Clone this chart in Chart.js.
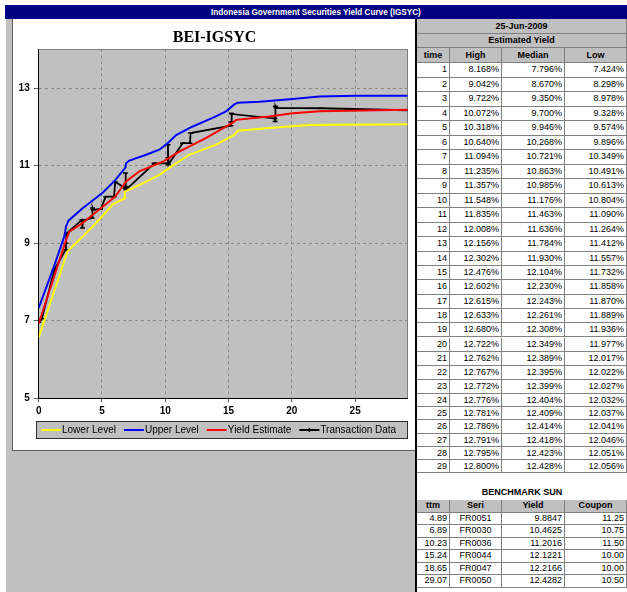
<!DOCTYPE html>
<html>
<head>
<meta charset="utf-8">
<script src="https://cdn.jsdelivr.net/npm/chart.js@4/dist/chart.umd.min.js"></script>
<style>
  html,body{margin:0;padding:0;background:#fff;}
  body{width:627px;height:592px;overflow:hidden;position:relative;font-family:"Liberation Sans",Arial,sans-serif;}
  #bar{position:absolute;left:5px;top:5px;width:622px;height:14px;background:#000080;color:#fff;font-weight:bold;font-size:9.5px;line-height:14px;text-align:center;overflow:hidden;}
  #bar span{display:inline-block;transform:scaleX(0.86);white-space:nowrap;}
  #gray{position:absolute;left:6px;top:19px;width:409px;height:573px;background:#c0c0c0;}
  #box{position:absolute;left:12px;top:19px;width:403px;height:432px;background:#fff;box-sizing:border-box;border-left:1px solid #606060;border-bottom:1px solid #606060;}
  #c{position:absolute;left:0;top:0;}
  #tbl{position:absolute;left:415px;top:19px;width:212px;height:573px;background:#fff;border-left:2px solid #000;box-sizing:border-box;}
  .cell{position:absolute;box-sizing:border-box;border-right:1px solid #808080;border-bottom:1px solid #808080;font-size:9px;white-space:nowrap;overflow:hidden;padding:0 2px;color:#000;}
  .hd{background:#c0c0c0;font-weight:bold;text-align:center;}
  .num{background:#fff;text-align:right;}
  .ctr{background:#fff;text-align:center;}
</style>
</head>
<body>
<div id="bar"><span>Indonesia Government Securities Yield Curve (IGSYC)</span></div>
<div id="gray"></div>
<div id="box"><canvas id="c" width="403" height="432"></canvas></div>
<div id="tbl"></div>
<script>
// ---------- Chart data ----------
const lowerX = [0, 2.29, 3.2, 4.27, 5.32, 5.84, 6.76, 6.8, 7.95, 9.53, 10.58, 11.9, 14.0, 15.45, 15.72, 18.2, 21.4, 29.15];
const lowerY = [6.57, 8.8, 9.08, 9.43, 9.8, 10.0, 10.15, 10.33, 10.5, 10.76, 11.0, 11.28, 11.54, 11.79, 11.9, 11.97, 12.05, 12.07];

const upperX = [0, 1.23, 2.05, 2.15, 2.35, 3.47, 5.05, 6.03, 6.85, 6.9, 7.16, 8.48, 9.53, 10.19, 10.85, 12.17, 13.74, 14.8, 15.45, 15.72, 17.43, 20.06, 22.17, 25.06, 29.15];
const upperY = [7.33, 8.42, 9.2, 9.42, 9.58, 9.9, 10.3, 10.62, 10.95, 11.06, 11.13, 11.28, 11.41, 11.58, 11.79, 12.01, 12.23, 12.4, 12.58, 12.62, 12.65, 12.72, 12.78, 12.8, 12.8];

const estX = [0, 1.23, 2.16, 2.42, 3.47, 5.05, 6.05, 6.9, 7.95, 9.8, 11.1, 13.2, 15.3, 15.6, 18.2, 20.06, 22.2, 29.15];
const estY = [6.93, 8.15, 9.08, 9.3, 9.52, 9.94, 10.2, 10.59, 10.85, 11.1, 11.36, 11.71, 12.1, 12.18, 12.27, 12.35, 12.4, 12.44];

const trxX = [0.0, 0.25, 1.23, 2.12, 2.15, 2.18, 2.22, 3.42, 3.45, 3.5, 4.22, 4.25, 4.3, 4.89, 5.3, 5.95, 6.05, 6.82, 6.85, 6.89, 6.9, 9.13, 10.19, 10.21, 10.23, 10.25, 11.37, 11.95, 12.0, 15.18, 15.2, 15.22, 15.27, 18.65, 18.68, 18.7, 18.75, 22.3, 29.07];
const trxY = [6.96, 7.05, 8.31, 8.83, 9.0, 9.21, 9.26, 9.6, 9.39, 9.58, 9.65, 9.91, 9.86, 9.8847, 10.2, 10.2, 10.58, 10.42, 10.81, 10.4625, 10.38, 11.06, 11.06, 11.54, 11.2016, 11.03, 11.58, 11.58, 11.84, 12.03, 12.1221, 12.35, 12.33, 12.2166, 12.14, 12.53, 12.49, 12.48, 12.4282];

const xTicks = [0, 5, 10, 15, 20, 25];
const yTicks = [5, 7, 9, 11, 13];

// ---------- Table data ----------
const tableDate = "25-Jun-2009";
const tableTime = [1,2,3,4,5,6,7,8,9,10,11,12,13,14,15,16,17,18,19,20,21,22,23,24,25,26,27,28,29];
const tableHigh = [8.168, 9.042, 9.722, 10.072, 10.318, 10.640, 11.094, 11.235, 11.357, 11.548, 11.835, 12.008, 12.156, 12.302, 12.476, 12.602, 12.615, 12.633, 12.680, 12.722, 12.762, 12.767, 12.772, 12.776, 12.781, 12.786, 12.791, 12.795, 12.800];
const tableMedian = [7.796, 8.670, 9.350, 9.700, 9.946, 10.268, 10.721, 10.863, 10.985, 11.176, 11.463, 11.636, 11.784, 11.930, 12.104, 12.230, 12.243, 12.261, 12.308, 12.349, 12.389, 12.395, 12.399, 12.404, 12.409, 12.414, 12.418, 12.423, 12.428];
const tableLow = [7.424, 8.298, 8.978, 9.328, 9.574, 9.896, 10.349, 10.491, 10.613, 10.804, 11.090, 11.264, 11.412, 11.557, 11.732, 11.858, 11.870, 11.889, 11.936, 11.977, 12.017, 12.022, 12.027, 12.032, 12.037, 12.041, 12.046, 12.051, 12.056];

const benchTtm = [4.89, 6.89, 10.23, 15.24, 18.65, 29.07];
const benchSeri = ["FR0051", "FR0030", "FR0036", "FR0044", "FR0047", "FR0050"];
const benchYield = [9.8847, 10.4625, 11.2016, 12.1221, 12.2166, 12.4282];
const benchCoupon = [11.25, 10.75, 11.50, 10.00, 10.00, 10.50];

// ---------- Build table ----------
const tbl = document.getElementById('tbl');
const colX = [0, 33, 85, 148, 210];   // relative to table inner left (417)
function cell(x, y, w, h, text, cls, extraStyle){
  const d = document.createElement('div');
  d.className = 'cell ' + cls;
  d.style.left = x + 'px'; d.style.top = y + 'px';
  d.style.width = w + 'px'; d.style.height = h + 'px';
  d.style.lineHeight = (h - 1) + 'px';
  if (extraStyle) Object.assign(d.style, extraStyle);
  d.textContent = text;
  tbl.appendChild(d);
}
function row(y, h, texts, cls){
  for (let i = 0; i < 4; i++) cell(colX[i], y, colX[i+1] - colX[i], h, texts[i], Array.isArray(cls) ? cls[i] : cls);
}
cell(0, 0, 210, 15, tableDate, 'hd');
cell(0, 15, 210, 14, 'Estimated Yield', 'hd');
row(29, 15, ['time', 'High', 'Median', 'Low'], 'hd');
let y = 44;
tableTime.forEach((t, i) => {
  const h = i < 14 ? 14.5 : (i < 22 ? 14.3 : 13.3);
  row(y, h, [String(t), tableHigh[i].toFixed(3) + '%', tableMedian[i].toFixed(3) + '%', tableLow[i].toFixed(3) + '%'], 'num');
  y += h;
});
cell(0, 467, 210, 13, 'BENCHMARK SUN', 'ctr', {border: 'none', fontWeight: 'bold'});
row(481, 12.5, ['ttm', 'Seri', 'Yield', 'Coupon'], 'hd');
y = 493.5;
benchTtm.forEach((t, i) => {
  row(y, 12.5, [t.toFixed(2), benchSeri[i], benchYield[i].toFixed(4), benchCoupon[i].toFixed(2)], ['num', 'ctr', 'num', 'num']);
  y += 12.5;
});

// ---------- Chart ----------
const FONT = '"Liberation Sans", Arial, sans-serif';
const zip = (xs, ys) => xs.map((x, i) => ({x: x, y: ys[i]}));

const plotFrame = {
  id: 'plotFrame',
  beforeDraw(chart){
    const a = chart.chartArea, c = chart.ctx;
    c.save();
    c.fillStyle = '#c0c0c0';
    c.fillRect(a.left, a.top, a.right - a.left, a.bottom - a.top);
    c.restore();
  },
  beforeDatasetsDraw(chart){
    const a = chart.chartArea, c = chart.ctx;
    c.save();
    c.strokeStyle = '#808080'; c.lineWidth = 1;
    c.beginPath();
    c.moveTo(a.left, Math.round(a.top) + 0.5); c.lineTo(a.right, Math.round(a.top) + 0.5);
    c.moveTo(Math.round(a.right) - 0.5, a.top); c.lineTo(Math.round(a.right) - 0.5, a.bottom);
    c.stroke();
    c.restore();
  }
};

const boxLegend = {
  id: 'boxLegend',
  afterDraw(chart){
    const c = chart.ctx;
    const L = 23, T = 402, R = 395, B = 420;
    c.save();
    c.fillStyle = '#c0c0c0'; c.fillRect(L, T, R - L, B - T);
    c.strokeStyle = '#303030'; c.lineWidth = 1; c.strokeRect(L + 0.5, T + 0.5, R - L - 1, B - T - 1);
    c.font = '10px ' + FONT; c.textBaseline = 'middle'; c.textAlign = 'left';
    const cy = (T + B) / 2;
    let x = L + 5;
    chart.data.datasets.forEach(ds => {
      c.strokeStyle = ds.borderColor; c.lineWidth = 2;
      c.beginPath(); c.moveTo(x, cy); c.lineTo(x + 20, cy); c.stroke();
      if (ds.pointRadius > 0) {
        c.lineWidth = 1.5;
        c.beginPath(); c.moveTo(x + 10, cy - 2); c.lineTo(x + 10, cy + 2); c.stroke();
      }
      x += 21;
      c.fillStyle = '#000';
      c.fillText(ds.label, x, cy + 0.5);
      x += c.measureText(ds.label).width + 8;
    });
    c.restore();
  }
};

new Chart(document.getElementById('c'), {
  type: 'line',
  data: {
    datasets: [
      {label: 'Lower Level', data: zip(lowerX, lowerY), borderColor: '#ffff00', backgroundColor: '#ffff00', borderWidth: 2, pointRadius: 0, tension: 0},
      {label: 'Upper Level', data: zip(upperX, upperY), borderColor: '#0000ff', backgroundColor: '#0000ff', borderWidth: 2, pointRadius: 0, tension: 0},
      {label: 'Yield Estimate', data: zip(estX, estY), borderColor: '#ff0000', backgroundColor: '#ff0000', borderWidth: 2, pointRadius: 0, tension: 0},
      {label: 'Transaction Data', data: zip(trxX, trxY), borderColor: '#000000', backgroundColor: '#000000', borderWidth: 1.8, pointRadius: 2.5, pointStyle: 'line', pointBorderWidth: 1.5, pointBorderColor: '#000', tension: 0}
    ]
  },
  options: {
    responsive: false,
    animation: false,
    events: [],
    layout: {padding: {left: 0, right: 0, top: 0, bottom: 30.7}},
    plugins: {
      legend: {display: false},
      tooltip: {enabled: false},
      title: {display: true, text: 'BEI-IGSYC', color: '#000', font: {family: '"Liberation Serif", "Times New Roman", serif', size: 16, weight: 'bold'}, padding: {top: 9, bottom: 2.1}}
    },
    scales: {
      x: {
        type: 'linear', min: 0, max: 29.15,
        afterBuildTicks: s => { s.ticks = xTicks.map(v => ({value: v})); },
        afterFit: s => { s.height = 22; },
        grid: {color: '#8a8a8a', lineWidth: 1, tickLength: 4, tickColor: '#606060'},
        border: {display: true, color: '#000', width: 1, dash: [3, 3]},
        ticks: {color: '#000', padding: 3, maxRotation: 0, font: {family: FONT, size: 10, weight: 'bold'}}
      },
      y: {
        type: 'linear', min: 5, max: 14,
        afterBuildTicks: s => { s.ticks = yTicks.map(v => ({value: v})); },
        afterFit: s => { s.width = 25.7; },
        grid: {color: '#8a8a8a', lineWidth: 1, tickLength: 5, tickColor: '#606060'},
        border: {display: true, color: '#000', width: 1, dash: [3, 3]},
        ticks: {color: '#000', padding: 4, font: {family: FONT, size: 10, weight: 'bold'}}
      },
      yPad: {
        type: 'linear', position: 'right', display: true,
        afterFit: s => { s.width = 8.3; },
        grid: {display: false, drawTicks: false}, border: {display: false},
        ticks: {display: false}
      }
    }
  },
  plugins: [plotFrame, boxLegend]
});
</script>
</body>
</html>
